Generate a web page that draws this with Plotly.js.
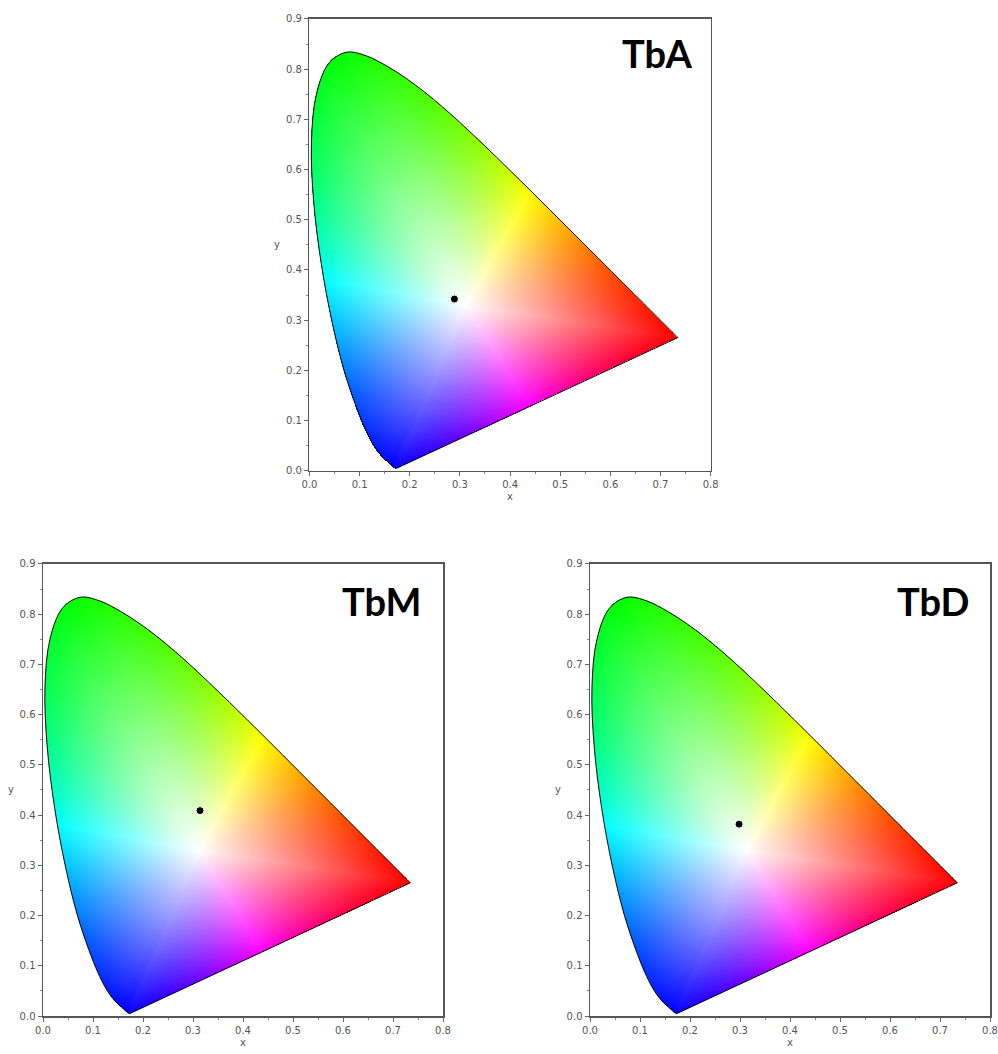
<!DOCTYPE html>
<html><head><meta charset="utf-8">
<script src="https://cdn.plot.ly/plotly-3.0.1.min.js"></script>
<style>body{margin:0;background:#fff}#chart{width:998px;height:1054px}</style>
</head><body><div id="chart"></div>
<script>
// CIE 1931 2-degree spectral locus, 380-700 nm at 5 nm steps
const locusX = [0.1741,0.1740,0.1738,0.1736,0.1733,0.1730,0.1726,0.1721,0.1714,0.1703,0.1689,0.1669,0.1644,0.1611,0.1566,0.1510,0.1440,0.1355,0.1241,0.1096,0.0913,0.0687,0.0454,0.0235,0.0082,0.0039,0.0139,0.0389,0.0743,0.1142,0.1547,0.1929,0.2296,0.2658,0.3016,0.3373,0.3731,0.4087,0.4441,0.4788,0.5125,0.5448,0.5752,0.6029,0.6270,0.6482,0.6658,0.6801,0.6915,0.7006,0.7079,0.7140,0.7190,0.7230,0.7260,0.7283,0.7300,0.7311,0.7320,0.7327,0.7334,0.7340,0.7344,0.7346,0.7347];
const locusY = [0.0050,0.0050,0.0049,0.0049,0.0048,0.0048,0.0048,0.0048,0.0051,0.0058,0.0069,0.0086,0.0109,0.0138,0.0177,0.0227,0.0297,0.0399,0.0578,0.0868,0.1327,0.2007,0.2950,0.4127,0.5384,0.6548,0.7502,0.8120,0.8338,0.8262,0.8059,0.7816,0.7543,0.7243,0.6923,0.6589,0.6245,0.5896,0.5547,0.5202,0.4866,0.4544,0.4242,0.3965,0.3725,0.3514,0.3340,0.3197,0.3083,0.2993,0.2920,0.2859,0.2809,0.2770,0.2740,0.2717,0.2700,0.2689,0.2680,0.2673,0.2666,0.2660,0.2656,0.2654,0.2653];

// samples (CIE x, y)
const samples = ['TbA', 'TbM', 'TbD'];
const sampleX = [0.289, 0.314, 0.298];
const sampleY = [0.342, 0.409, 0.382];

// ticks
const xTickVals = [0, 0.1, 0.2, 0.3, 0.4, 0.5, 0.6, 0.7, 0.8];
const xTickText = ['0.0','0.1','0.2','0.3','0.4','0.5','0.6','0.7','0.8'];
const yTickVals = [0, 0.1, 0.2, 0.3, 0.4, 0.5, 0.6, 0.7, 0.8, 0.9];
const yTickText = ['0.0','0.1','0.2','0.3','0.4','0.5','0.6','0.7','0.8','0.9'];

// ---------- colour fill of the gamut (rendering only, shown through an image trace) ----------
const WX = 0.3127, WY = 0.329;                       // white point
const hueAngles = [-8.2, 60.7, 117, 169.7, 245, 302, 351.8];
const hueValues = [0, 60, 120, 180, 240, 300, 360];
const SAT_EXP = 1.0;
const DX = 0.002, NW = 400, NH = 450;

// smooth outline for masking (Catmull-Rom through the locus samples)
const bnd = [];
(function () {
  const n = locusX.length;
  for (let i = 0; i < n - 1; i++) {
    const p0 = [locusX[Math.max(0, i - 1)], locusY[Math.max(0, i - 1)]];
    const p1 = [locusX[i], locusY[i]], p2 = [locusX[i + 1], locusY[i + 1]];
    const p3 = [locusX[Math.min(n - 1, i + 2)], locusY[Math.min(n - 1, i + 2)]];
    for (let s = 0; s < 8; s++) {
      const t = s / 8, t2 = t * t, t3 = t2 * t;
      const f = k => 0.5 * ((2 * p1[k]) + (-p0[k] + p2[k]) * t + (2 * p0[k] - 5 * p1[k] + 4 * p2[k] - p3[k]) * t2 + (-p0[k] + 3 * p1[k] - 3 * p2[k] + p3[k]) * t3);
      bnd.push([f(0), f(1)]);
    }
  }
  bnd.push([locusX[n - 1], locusY[n - 1]]);
})();
function inside(px, py) {
  let c = false; const n = bnd.length;
  for (let i = 0, j = n - 1; i < n; j = i++) {
    const xi = bnd[i][0], yi = bnd[i][1], xj = bnd[j][0], yj = bnd[j][1];
    if (((yi > py) !== (yj > py)) && (px < (xj - xi) * (py - yi) / (yj - yi) + xi)) c = !c;
  }
  return c;
}
// boundary radius by angle
const NB = 3600, radius = new Float64Array(NB);
for (let a = 0; a < NB; a++) {
  const th = a / NB * 2 * Math.PI, dx = Math.cos(th), dy = Math.sin(th);
  let best = Infinity; const n = bnd.length;
  for (let i = 0, j = n - 1; i < n; j = i++) {
    const ax = bnd[j][0] - WX, ay = bnd[j][1] - WY, ex = bnd[i][0] - bnd[j][0], ey = bnd[i][1] - bnd[j][1];
    const den = dx * ey - dy * ex; if (Math.abs(den) < 1e-12) continue;
    const t = (ax * ey - ay * ex) / den, u = (ax * dy - ay * dx) / den;
    if (t > 0 && u >= 0 && u <= 1 && t < best) best = t;
  }
  radius[a] = best;
}
function hueFor(angDeg) {
  let a = angDeg; while (a < hueAngles[0]) a += 360; while (a >= hueAngles[hueAngles.length - 1]) a -= 360;
  for (let i = 0; i < hueAngles.length - 1; i++) {
    if (a >= hueAngles[i] && a < hueAngles[i + 1])
      return hueValues[i] + (a - hueAngles[i]) / (hueAngles[i + 1] - hueAngles[i]) * (hueValues[i + 1] - hueValues[i]);
  }
  return 0;
}
function hsv(h, s) {
  h = ((h % 360) + 360) % 360; const c = s, hp = h / 60, x = c * (1 - Math.abs(hp % 2 - 1));
  let r = 0, g = 0, b = 0;
  if (hp < 1) { r = c; g = x; } else if (hp < 2) { r = x; g = c; } else if (hp < 3) { g = c; b = x; }
  else if (hp < 4) { g = x; b = c; } else if (hp < 5) { r = x; b = c; } else { r = c; b = x; }
  const m = 1 - c; return [Math.round(255 * (r + m)), Math.round(255 * (g + m)), Math.round(255 * (b + m))];
}
const gamut = [];
for (let j = 0; j < NH; j++) {
  const row = []; const py = DX / 2 + j * DX;
  for (let i = 0; i < NW; i++) {
    const px = DX / 2 + i * DX;
    if (inside(px, py)) {
      const dx = px - WX, dy = py - WY;
      let th = Math.atan2(dy, dx); if (th < 0) th += 2 * Math.PI;
      const R = radius[Math.floor(th / (2 * Math.PI) * NB) % NB];
      const f = Math.min(1, Math.hypot(dx, dy) / R);
      const c = hsv(hueFor(th * 180 / Math.PI), Math.pow(f, SAT_EXP));
      row.push([c[0], c[1], c[2], 1]);
    } else row.push([255, 255, 255, 0]);
  }
  gamut.push(row);
}

// ---------- layout ----------
const axisIds = [['x', 'y'], ['x2', 'y2'], ['x3', 'y3']];
const xDomains = [[0.3101, 0.7121], [0.0431, 0.4439], [0.5912, 0.9920]];
const yDomains = [[0.5534, 0.9820], [0.03605, 0.4649], [0.03605, 0.4649]];
const labelShift = [-17, -20, -19];
const labelY = [0.924, 0.919, 0.919];

function axisCfg(isX, domain, anchor) {
  return {
    domain: domain, anchor: anchor,
    range: isX ? [0, 0.8] : [0, 0.9], autorange: false,
    showgrid: false, zeroline: false,
    showline: true, mirror: true, linecolor: '#555', linewidth: 1.5,
    ticks: 'outside', ticklen: 4, tickwidth: 1, tickcolor: '#666',
    tickmode: 'array',
    tickvals: isX ? xTickVals : yTickVals,
    ticktext: isX ? xTickText : yTickText,
    tickfont: { family: 'DejaVu Sans', size: 10, color: '#555' },
    minor: { tickmode: 'linear', tick0: 0, dtick: 0.05, ticks: 'outside', ticklen: 2, tickcolor: '#888' },
    fixedrange: true,
    title: isX ? { text: 'x', font: { family: 'DejaVu Sans', size: 10, color: '#555' }, standoff: 4 } : { text: '' }
  };
}

const data = [];
const layout = {
  width: 998, height: 1054,
  margin: { l: 0, r: 0, t: 0, b: 0 },
  paper_bgcolor: '#fff', plot_bgcolor: '#fff',
  showlegend: false,
  annotations: []
};
const nL = locusX.length;

for (let k = 0; k < 3; k++) {
  const xa = axisIds[k][0], ya = axisIds[k][1];
  const xName = 'xaxis' + (k === 0 ? '' : k + 1), yName = 'yaxis' + (k === 0 ? '' : k + 1);
  layout[xName] = axisCfg(true, xDomains[k], ya);
  layout[yName] = Object.assign(axisCfg(false, yDomains[k], xa), { scaleanchor: false });

  data.push({ type: 'image', z: gamut, colormodel: 'rgba', x0: DX / 2, dx: DX, y0: DX / 2, dy: DX,
              xaxis: xa, yaxis: ya, hoverinfo: 'skip' });
  data.push({ type: 'scatter', mode: 'lines', x: locusX, y: locusY,
              line: { color: '#000', width: 1, shape: 'spline', smoothing: 1 }, xaxis: xa, yaxis: ya, hoverinfo: 'skip' });
  data.push({ type: 'scatter', mode: 'lines', x: [locusX[nL - 1], locusX[0]], y: [locusY[nL - 1], locusY[0]],
              line: { color: '#000', width: 1 }, xaxis: xa, yaxis: ya, hoverinfo: 'skip' });
  data.push({ type: 'scatter', mode: 'markers', x: [sampleX[k]], y: [sampleY[k]], name: samples[k],
              marker: { color: '#000', size: 8, line: { color: '#fff', width: 1 } }, xaxis: xa, yaxis: ya });

  layout.annotations.push({ text: samples[k], showarrow: false,
    xref: xa + ' domain', yref: ya + ' domain', x: 1, y: labelY[k], xanchor: 'right', yanchor: 'middle',
    xshift: labelShift[k],
    font: { family: 'Lato, sans-serif', size: 38, color: '#000', weight: 'bold' } });
  layout.annotations.push({ text: 'y', showarrow: false,
    xref: xa + ' domain', yref: ya, x: 0, y: 0.45, xanchor: 'center', yanchor: 'middle', xshift: -32,
    font: { family: 'DejaVu Sans', size: 10, color: '#555' } });
}

Plotly.newPlot('chart', data, layout, { displayModeBar: false, staticPlot: true });
</script>
</body></html>
